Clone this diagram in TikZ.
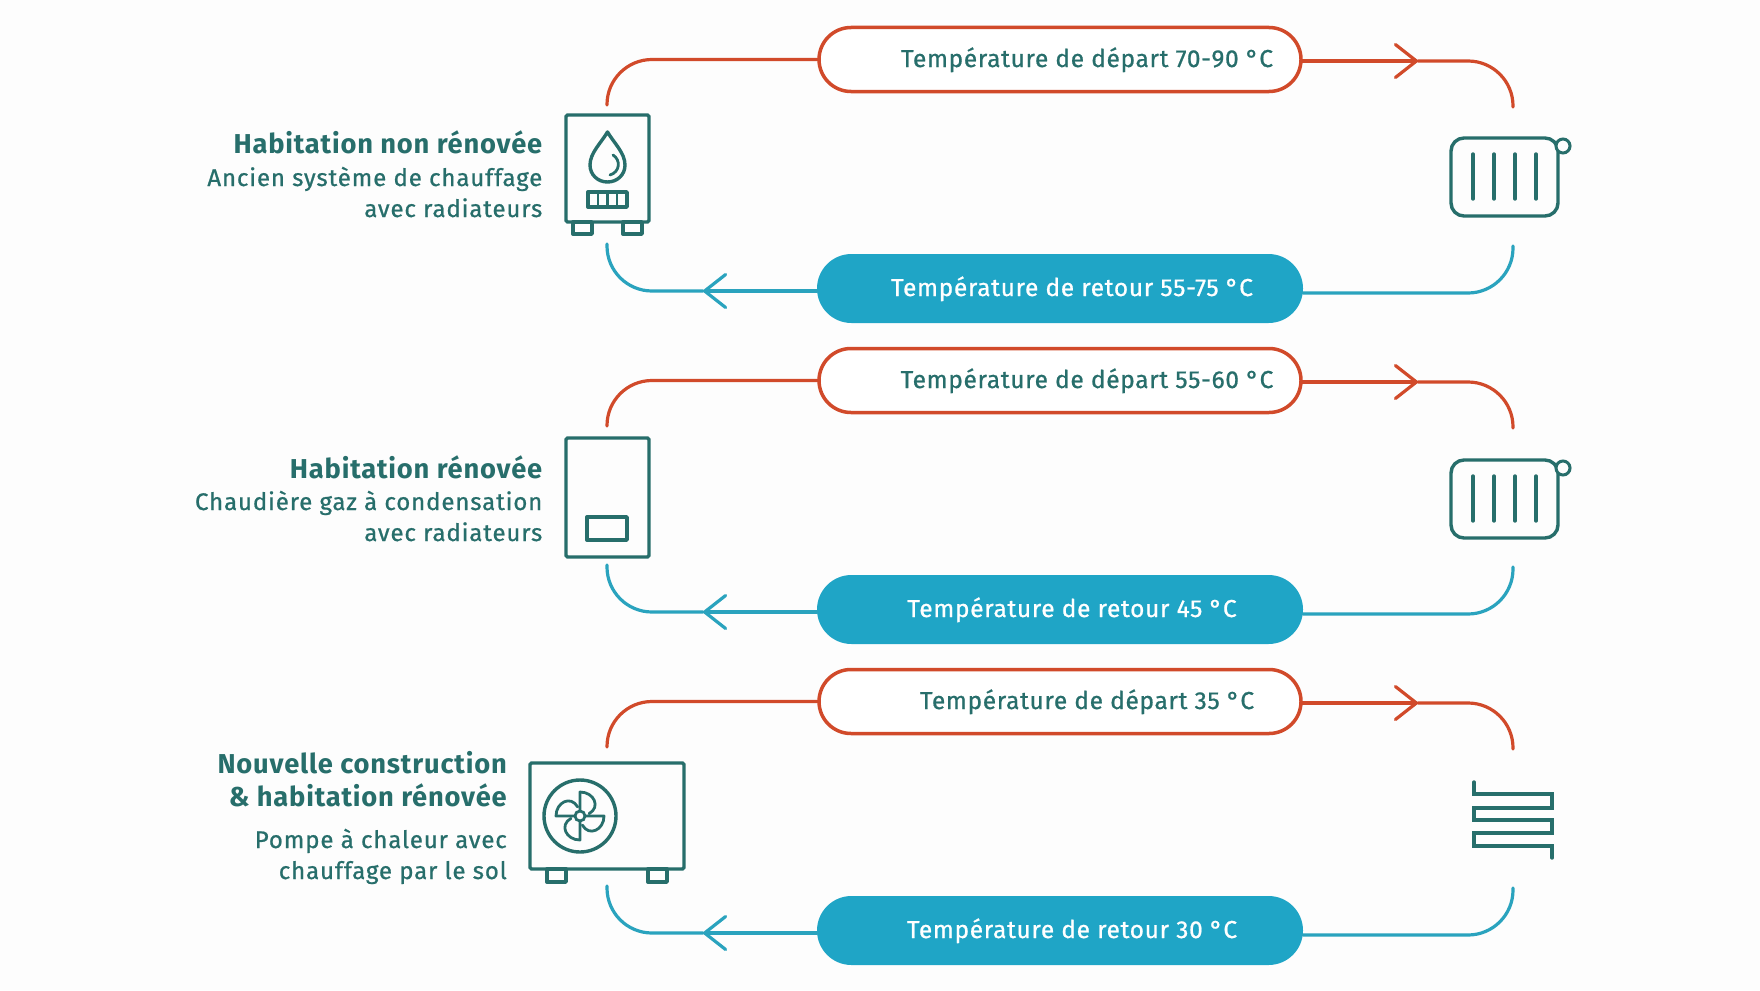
\documentclass[tikz,border=0pt]{standalone}
\usepackage{fontspec}
\setmainfont{Fira Sans}
\newfontfamily\pillfont[FakeBold=0.8,LetterSpace=2.7]{Fira Sans}
\newfontfamily\subfont[FakeBold=0.8,LetterSpace=3.7]{Fira Sans}
\newfontfamily\headfont[LetterSpace=3]{Fira Sans}
\usetikzlibrary{arrows.meta,positioning,shapes.misc,calc}
\definecolor{pagewhite}{HTML}{FDFDFD}
\definecolor{hotred}{HTML}{D14A2A}
\definecolor{coldblue}{HTML}{1FA5C6}
\definecolor{coldline}{HTML}{2AA3BE}
\definecolor{darkteal}{HTML}{276E6B}

\begin{document}
\begin{tikzpicture}[
      x=1pt,y=-1pt,
      pill/.style={
        rounded rectangle,
        outer sep=0pt,
        minimum width=482pt,
        minimum height=64pt,
        inner sep=0pt
      },
      deppill/.style={
        pill,
        draw=hotred,
        fill=white,
        line width=3.5pt
      },
      retpill/.style={
        pill,
        fill=coldblue,
        minimum width=486pt,
        minimum height=69pt
      },
      pilltext/.style={
        anchor=base,
        inner sep=0pt,
        font=\pillfont\fontsize{24.5}{28}\selectfont
      },
      hotline/.style={
        line width=3.2pt,
        hotred,
        line cap=round,
        rounded corners=45pt
      },
      coldpath/.style={
        line width=3.2pt,
        coldline,
        line cap=round,
        rounded corners=45pt
      },
      barb/.style={
        line width=3.05pt,
        -{Straight Barb[length=21pt,width=33pt,line width=3.2pt,round]}
      },
      icon/.style={
        line width=3.4pt,
        darkteal,
        line join=round,
        line cap=round
      },
      unitbox/.style={
        draw=darkteal,
        line width=3.4pt,
        rounded corners=1.5pt,
        inner sep=0pt,
        outer sep=0pt
      },
      headtext/.style={
        anchor=base east,
        align=right,
        inner sep=0pt,
        text=darkteal,
        font=\headfont\bfseries\fontsize{27.3}{33}\selectfont
      },
      subtext/.style={
        anchor=base east,
        align=right,
        inner sep=0pt,
        text=darkteal,
        font=\subfont\fontsize{24}{31}\selectfont
      }
    ]

    \path[use as bounding box,fill=pagewhite] (0,0) rectangle (1760,990);

    % one hot and one cold loop per house
    \foreach \n/\dy/\dep/\ret in {
        1/0/70-90/55-75,
        2/321/55-60/45,
        3/642/35/30}{

      \node[deppill] (dep\n) at (1060,59.5+\dy) {};
      \node[retpill] (ret\n) at (1060,288.5+\dy) {};

      \node[pilltext,text=darkteal] (deptext\n)
        at ($(dep\n.center)+(27,7.5)$) {Température de départ \dep{} °C};
      \node[pilltext,text=white] (rettext\n)
        at ($(ret\n.center)+(12,7.5)$) {Température de retour \ret{} °C};

      \coordinate (hotleft\n) at (607,105+\dy);
      \coordinate (hotright\n) at (1513,107+\dy);
      \coordinate (coldleft\n) at (607,244+\dy);
      \coordinate (coldright\n) at (1513,246+\dy);
      \coordinate (hottip\n) at (1418,61+\dy);
      \coordinate (coldtip\n) at (703,291+\dy);

      \draw[hotline] (dep\n.west) -| (hotleft\n);
      \draw[hotline,barb] ([yshift=-1.5pt]dep\n.east) -- (hottip\n);
      \draw[hotline] (hottip\n) -| (hotright\n);
      \draw[coldpath] (coldright\n) |- ([yshift=-4.5pt]ret\n.east);
      \draw[coldpath,barb] ([yshift=-2.5pt]ret\n.west) -- (coldtip\n);
      \draw[coldpath] (coldtip\n) -| (coldleft\n);
    }

    % house labels
    \node[headtext] (head1) at (542.5,153) {Habitation non rénovée};
    \node[subtext] (sub1a) at (542.5,186) {Ancien système de chauffage};
    \node[subtext] (sub1b) at (542.5,217) {avec radiateurs};

    \node[headtext] (head2) at (542.5,478) {Habitation rénovée};
    \node[subtext] (sub2a) at (542.5,510) {Chaudière gaz à condensation};
    \node[subtext] (sub2b) at (542.5,541) {avec radiateurs};

    \node[headtext] (head3a) at (507,773) {Nouvelle construction};
    \node[headtext] (head3b) at (507,806) {\& habitation rénovée};
    \node[subtext] (sub3a) at (507,848) {Pompe à chaleur avec};
    \node[subtext] (sub3b) at (507,879) {chauffage par le sol};

    % oil boiler
    \node[unitbox,minimum width=83pt,minimum height=107pt] (boiler) at (607.5,168.5) {};
    \draw[icon] (573,222) rectangle (592,234);
    \draw[icon] (623,222) rectangle (642,234);
    \draw[icon] (607.5,132) .. controls (601,143) and (590,153) .. (590,165)
      .. controls (590,175) and (598,182) .. (607.5,182)
      .. controls (617,182) and (625,175) .. (625,165)
      .. controls (625,153) and (614,143) .. (607.5,132) -- cycle;
    \draw[icon,line width=2.8pt] (613,155) .. controls (621,160) and (620,172) .. (610,175);
    \draw[icon] (588,192) rectangle (627,207);
    \foreach \x in {598,607.5,617}{
      \draw[icon,line width=2.8pt] (\x,192) -- (\x,207);
    }

    % gas boiler
    \node[unitbox,minimum width=83pt,minimum height=119pt] (gasboiler) at (607.5,497.5) {};
    \draw[icon] (587,517) rectangle (627,540);

    % heat pump
    \node[unitbox,minimum width=154pt,minimum height=106pt] (pump) at (607,816) {};
    \draw[icon] (547,869) rectangle (566,882);
    \draw[icon] (648,869) rectangle (667,882);
    \node[draw=darkteal,line width=3.4pt,circle,minimum size=72pt,inner sep=0pt] (fan) at (580,816) {};
    \node[draw=darkteal,line width=2.8pt,circle,minimum size=10pt,inner sep=0pt] (hub) at (fan) {};
    \foreach \a in {0,90,180,270}{
      \draw[icon,line width=2.8pt,shift={(580,816)},rotate=\a]
        (5,0) -- (24,0) .. controls (24,14) and (9,21) .. (2.3,9);
    }

    % radiators
    \foreach \n/\dy in {1/0,2/322}{
      \node[unitbox,rounded corners=13pt,minimum width=107pt,minimum height=78pt] (rad\n) at (1504.5,177+\dy) {};
      \node[draw=darkteal,line width=3pt,circle,minimum size=14pt,inner sep=0pt,fill=pagewhite] (valve\n) at (1563,146+\dy) {};
      \foreach \x in {1473,1494,1515,1536}{
        \draw[icon] (\x,154+\dy) -- (\x,199+\dy);
      }
    }

    % floor heating
    \draw[icon,line join=miter] (1474,782) |- (1552,794) |- (1474,808) |- (1552,820) |- (1474,833) |- (1552,846) -- (1552,858);

  \end{tikzpicture}
\end{document}
